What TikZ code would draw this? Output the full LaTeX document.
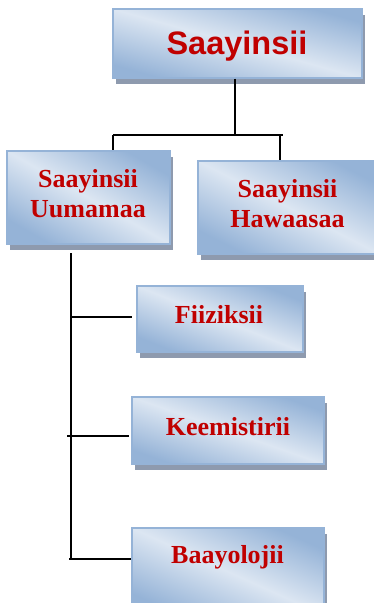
\documentclass[tikz,border=0pt]{standalone}
\usepackage{fontspec}
\setmainfont{Liberation Serif}
\newfontfamily\headfont{Liberation Sans}
\usetikzlibrary{shadows}
\definecolor{boxborder}{HTML}{95B3D7}
\definecolor{boxdark}{HTML}{95B3D7}
\definecolor{boxlight}{HTML}{DCE6F2}
\definecolor{shadowgray}{HTML}{8E9AAE}
\definecolor{textred}{HTML}{C00000}
\tikzset{
  boxshape/.style 2 args={draw=boxborder, line width=1.4pt, inner sep=0pt,
    minimum width=#1pt, minimum height=#2pt,
    drop shadow={shadow xshift=3pt, shadow yshift=-5.5pt, fill=shadowgray, opacity=1},
    top color=boxdark, bottom color=boxdark, middle color=boxlight,
    shading angle={-atan(#2/#1)}},
  boxtext/.style={inner sep=0pt, text=textred, font=\bfseries\fontsize{26pt}{30.3pt}\selectfont, align=center},
  headtext/.style={inner sep=0pt, text=textred, font=\headfont\bfseries\fontsize{32.5pt}{38pt}\selectfont},
  conn/.style={line width=1.8pt, black}
}
\begin{document}
\begin{tikzpicture}[x=1pt,y=-1pt]
\path[use as bounding box, clip] (0,0) rectangle (374,603);
% boxes
\node[boxshape={249}{69}] (top) at (237.5,43.5) {};
\node[boxshape={163}{93}] (L) at (88.5,197.5) {};
\node[boxshape={182}{93}] (R) at (289,207.5) {};
\node[boxshape={166}{66}] (F) at (220,319) {};
\node[boxshape={192}{67}] (K) at (228,430.5) {};
\node[boxshape={192}{87}] (B) at (228,571.5) {};
% texts
\node[headtext, anchor=base] (topt) at (237,54.3) {Saayinsii};
\node[boxtext] (Lt) at (88,193.9) {Saayinsii\\Uumamaa};
\node[boxtext] (Rt) at (287.5,203.5) {Saayinsii\\Hawaasaa};
\node[boxtext, anchor=base] (Ft) at (219,323.3) {Fiiziksii};
\node[boxtext, anchor=base] (Kt) at (228,435.7) {Keemistirii};
\node[boxtext, anchor=base] (Bt) at (227.5,563.3) {Baayolojii};
% connectors
\coordinate (bus) at (235,135);
\coordinate (jL) at (113,135);
\coordinate (jR) at (280,135);
\coordinate (jRend) at (283,135);
\coordinate (spTop) at (71,253);
\coordinate (spBot) at (71,559);
\draw[conn] ([xshift=-2.5pt]top.south) -- (bus);
\draw[conn] (jL) -- (jRend);
\draw[conn] (jL) -- (jL |- L.north);
\draw[conn] (jR) -- (jR |- R.north);
\draw[conn] (spTop) -- (spBot);
\coordinate (fS) at (71,317);
\coordinate (kS) at (67,436);
\coordinate (bS) at (69,559);
\draw[conn] (fS) -- ([xshift=-4pt]F.west |- fS);
\draw[conn] (kS) -- ([xshift=-2pt]K.west |- kS);
\draw[conn] (bS) -- (B.west |- bS);
\end{tikzpicture}
\end{document}
